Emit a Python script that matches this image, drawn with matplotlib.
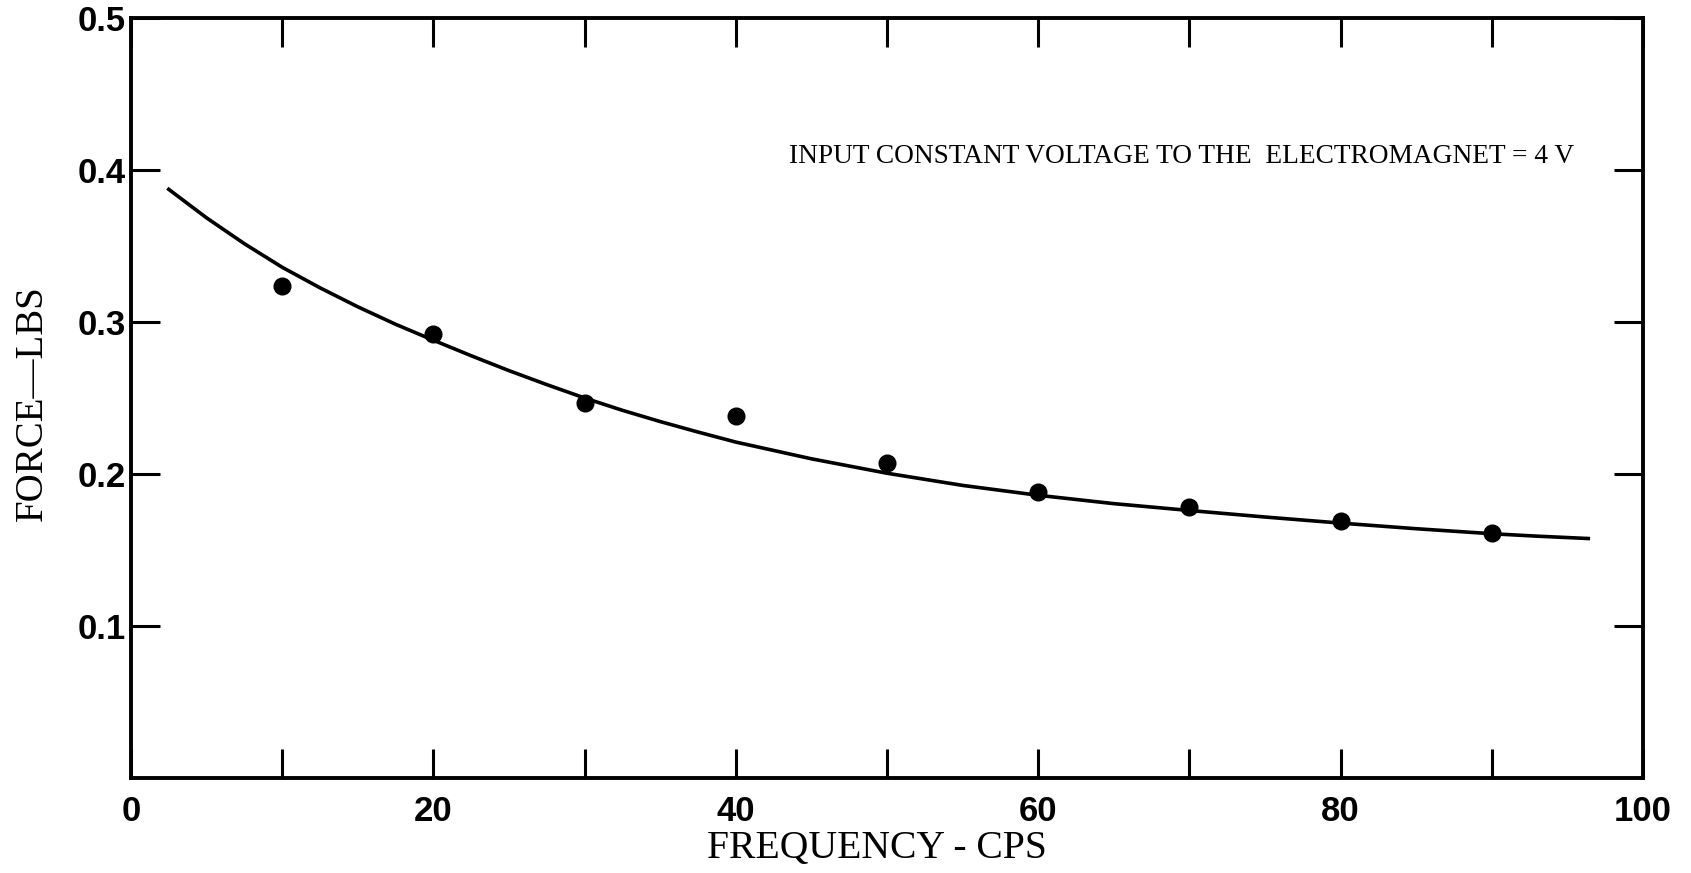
import matplotlib
matplotlib.use("Agg")
import matplotlib.pyplot as plt

# measured points (frequency in cps, force in lbs)
freq = [10, 20, 30, 40, 50, 60, 70, 80, 90]
force = [0.324, 0.292, 0.247, 0.238, 0.207, 0.188, 0.178, 0.169, 0.161]

# faired curve
curve_freq = [2.4, 5, 7.5, 10, 12.5, 15, 17.5, 20, 22.5, 25, 27.5, 30, 32.5,
              35, 37.5, 40, 45, 50, 55, 60, 65, 70, 75, 80, 85, 90, 93, 96.5]
curve_force = [0.388, 0.3685, 0.3515, 0.336, 0.3225, 0.310, 0.2985, 0.288,
               0.2778, 0.268, 0.2588, 0.250, 0.2419, 0.2345, 0.2276, 0.221,
               0.210, 0.2005, 0.1925, 0.186, 0.1805, 0.176, 0.1717, 0.1677,
               0.164, 0.1607, 0.1591, 0.1575]

x_major = [0, 20, 40, 60, 80, 100]
x_minor = [10, 30, 50, 70, 90]
y_ticks = [0.1, 0.2, 0.3, 0.4, 0.5]
y_labels = ["0.1", "0.2", "0.3", "0.4", "0.5"]

note = "INPUT CONSTANT VOLTAGE TO THE  ELECTROMAGNET = 4 V"

fig = plt.figure(figsize=(16.91, 8.73), dpi=100)
ax = fig.add_axes([131 / 1691, 95 / 873, 1512 / 1691, 760 / 873])

ax.plot(curve_freq, curve_force, color="black", linewidth=2.6,
        solid_capstyle="butt", solid_joinstyle="round")
ax.plot(freq, force, linestyle="none", marker="o", markersize=12,
        color="black")

ax.set_xlim(0, 100)
ax.set_ylim(0, 0.5)

for spine in ax.spines.values():
    spine.set_linewidth(2.8)

ax.set_xticks(x_major)
ax.set_xticks(x_minor, minor=True)
ax.set_yticks(y_ticks)
ax.set_yticklabels(y_labels)
ax.tick_params(axis="both", which="both", direction="in", top=True,
               right=True, length=21, width=2.2)
ax.tick_params(axis="x", which="major", pad=12)
ax.tick_params(axis="y", which="major", pad=4)
for lab in ax.get_xticklabels() + ax.get_yticklabels():
    lab.set_fontfamily("Liberation Sans")
    lab.set_fontweight("bold")
    lab.set_fontsize(25)

fig.text(877 / 1691, 1 - 849 / 873, "FREQUENCY - CPS", ha="center",
         va="center", fontsize=28.5, family="Liberation Serif")
fig.text(32 / 1691, 1 - 403 / 873, "FORCE\u2014LBS", ha="center",
         va="center", rotation=90, fontsize=28, family="Liberation Serif")
ax.text(0.4353, 0.818, note, transform=ax.transAxes, ha="left", va="center",
        fontsize=19.7, family="Liberation Serif")

fig.savefig("out.png", dpi=100)
